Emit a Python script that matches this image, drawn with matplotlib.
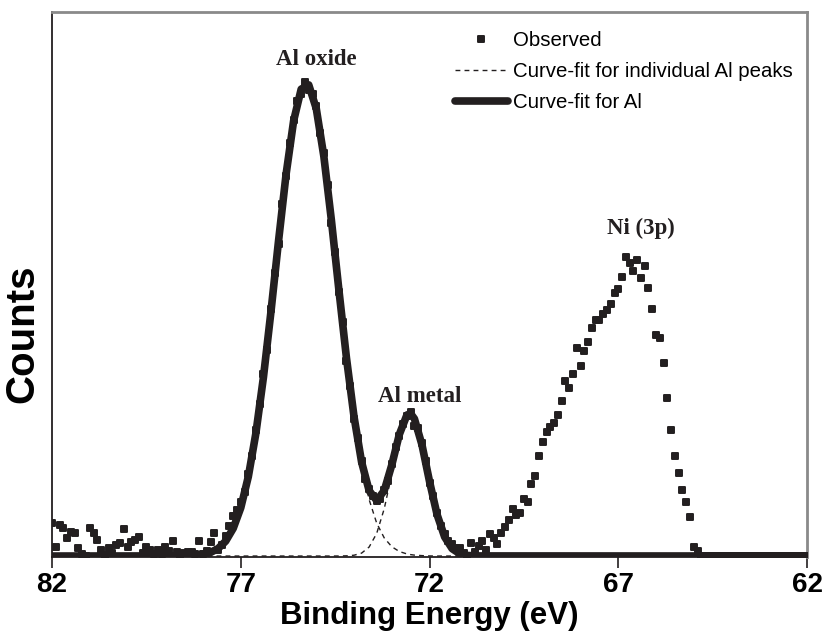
import numpy as np
import matplotlib
matplotlib.use("Agg")
import matplotlib.pyplot as plt
from matplotlib.markers import MarkerStyle

## XPS Al 2p / Ni 3p region, counts (arbitrary units)
obs_energy = np.round(np.linspace(82, 62, 201), 1)
obs_counts = [
    33, 9, 31, 28, 18, 24, 23, 8, 2, 0,
    28, 23, 16, 6, 1, 8, 3, 11, 13, 27,
    9, 14, 16, 19, 3, 9, 6, 2, 6, 2,
    9, 5, 15, 4, 1, 3, 4, 4, 2, 15,
    2, 5, 14, 23, 6, 11, 20, 30, 40, 46,
    54, 64, 82, 100, 126, 152, 182, 206, 247, 283,
    312, 352, 380, 413, 436, 455, 462, 474, 466, 462,
    450, 423, 403, 371, 333, 304, 264, 234, 195, 170,
    137, 118, 95, 77, 67, 60, 55, 57, 66, 75,
    92, 109, 120, 132, 140, 144, 130, 128, 113, 95,
    73, 60, 43, 30, 22, 15, 12, 8, 8, 3,
    0, 13, 4, 10, 15, 6, 22, 18, 12, 23,
    29, 36, 47, 41, 43, 57, 54, 72, 80, 100,
    114, 124, 129, 133, 141, 155, 175, 168, 182, 208,
    190, 205, 214, 228, 236, 236, 242, 246, 252, 263,
    267, 279, 299, 293, 285, 296, 278, 290, 268, 247,
    221, 218, 193, 158, 126, 100, 83, 66, 54, 39,
    9, 5, 0, 0, 0, 0, 0, 0, 0, 0,
    0, 0, 0, 0, 0, 0, 0, 0, 0, 0,
    0, 0, 0, 0, 0, 0, 0, 0, 0, 0,
    0,
]

## fitted components, sampled every 0.2 eV (plus 72.5)
fit_energy = [78.6, 78.4, 78.2, 78.0, 77.8, 77.6, 77.4, 77.2, 77.0, 76.8,
              76.6, 76.4, 76.2, 76.0, 75.8, 75.6, 75.4, 75.2, 75.0, 74.8,
              74.6, 74.4, 74.2, 74.0, 73.8, 73.6, 73.4, 73.2, 73.0, 72.8,
              72.6, 72.5, 72.4, 72.2, 72.0, 71.8, 71.6, 71.4, 71.2, 71.0,
              70.8]
fit_oxide = [0.1, 0.3, 0.7, 1.6, 3.6, 7.5, 14.9, 27.7, 48.3, 79.4,
             122.8, 178.8, 244.6, 315.1, 381.8, 435.3, 466.9, 471.2, 447.4, 399.8,
             335.9, 265.7, 197.7, 138.4, 91.1, 56.4, 32.9, 18.1, 9.3, 4.5,
             2.1, 1.4, 0.9, 0.4, 0.1, 0, 0, 0, 0, 0,
             0]
fit_metal = [0, 0, 0, 0, 0, 0, 0, 0, 0, 0,
             0, 0, 0, 0, 0, 0, 0, 0, 0, 0,
             0, 0.03, 0.2, 0.8, 2.9, 9.0, 22.6, 47.3, 81.8, 117.1,
             138.9, 141.0, 136.3, 110.7, 74.4, 41.4, 19.1, 7.3, 2.3, 0.6,
             0.1]
fit_total = [0, 0.1, 0.3, 0.7, 1.6, 3.6, 7.5, 14.9, 27.7, 48.3, 79.4,
             122.8, 178.8, 244.6, 315.1, 381.8, 435.3, 466.9, 471.2, 447.4, 399.8,
             335.9, 265.7, 197.9, 139.2, 94.0, 65.4, 55.5, 65.4, 91.1, 121.6,
             141.0, 142.4, 137.2, 111.1, 74.5, 41.4, 19.1, 7.3, 2.3, 0.6,
             0.1, 0]
fit_total_energy = [82.0] + fit_energy + [62.0]

ink = '#231f20'
sans = ['Liberation Sans', 'DejaVu Sans']
serif = ['Liberation Serif', 'DejaVu Serif']

fig = plt.figure(figsize=(8.22, 6.35), dpi=100)
ax = fig.add_axes([0.0633, 0.1228, 0.9185, 0.8582])

sq = MarkerStyle('s', joinstyle='round')
ax.plot(obs_energy, obs_counts, linestyle='none', marker=sq, color=ink,
        markersize=4.8, markeredgewidth=1.4, label='Observed', zorder=3)
ax.plot(fit_energy, fit_oxide, '--', color=ink, lw=1.0, dashes=(3.5, 3), zorder=2,
        label='Curve-fit for individual Al peaks')
ax.plot(fit_energy, fit_metal, '--', color=ink, lw=1.0, dashes=(3.5, 3), zorder=2)
ax.plot(fit_total_energy, fit_total, '-', color=ink, lw=5.5, solid_capstyle='round',
        zorder=2.5, label='Curve-fit for Al')

ax.set_xlim(82, 62)
ax.set_ylim(-1, 544)
ax.set_xticks([82, 77, 72, 67, 62])
ax.set_xticklabels(['82', '77', '72', '67', '62'], family=sans, fontsize=20, fontweight='bold')
ax.set_yticks([])
ax.tick_params(axis='x', direction='out', length=8, width=1.2, color=ink, pad=3)

for s in ['left', 'bottom']:
    ax.spines[s].set_color(ink)
    ax.spines[s].set_linewidth(1.3)
for s in ['top', 'right']:
    ax.spines[s].set_color('#8a8a8a')
    ax.spines[s].set_linewidth(2)

ax.set_xlabel('Binding Energy (eV)', family=sans, fontsize=22.5, fontweight='bold', labelpad=2)
ax.set_ylabel('Counts', family=sans, fontsize=29, fontweight='bold')
ax.yaxis.set_label_coords(-0.0145, 0.41)

ax.text(75.0, 491, 'Al oxide', family=serif, fontsize=16.5, fontweight='bold',
        ha='center', va='baseline', color=ink)
ax.text(72.25, 154, 'Al metal', family=serif, fontsize=16.5, fontweight='bold',
        ha='center', va='baseline', color=ink)
ax.text(66.4, 322, 'Ni (3p)', family=serif, fontsize=16.5, fontweight='bold',
        ha='center', va='baseline', color=ink)

leg = ax.legend(loc='upper left', bbox_to_anchor=(0.520, 0.984), frameon=False,
                prop={'family': sans, 'size': 14.7}, handlelength=2.6,
                handletextpad=0.25, labelspacing=0.6, borderpad=0)

fig.savefig('out.png', dpi=100)
